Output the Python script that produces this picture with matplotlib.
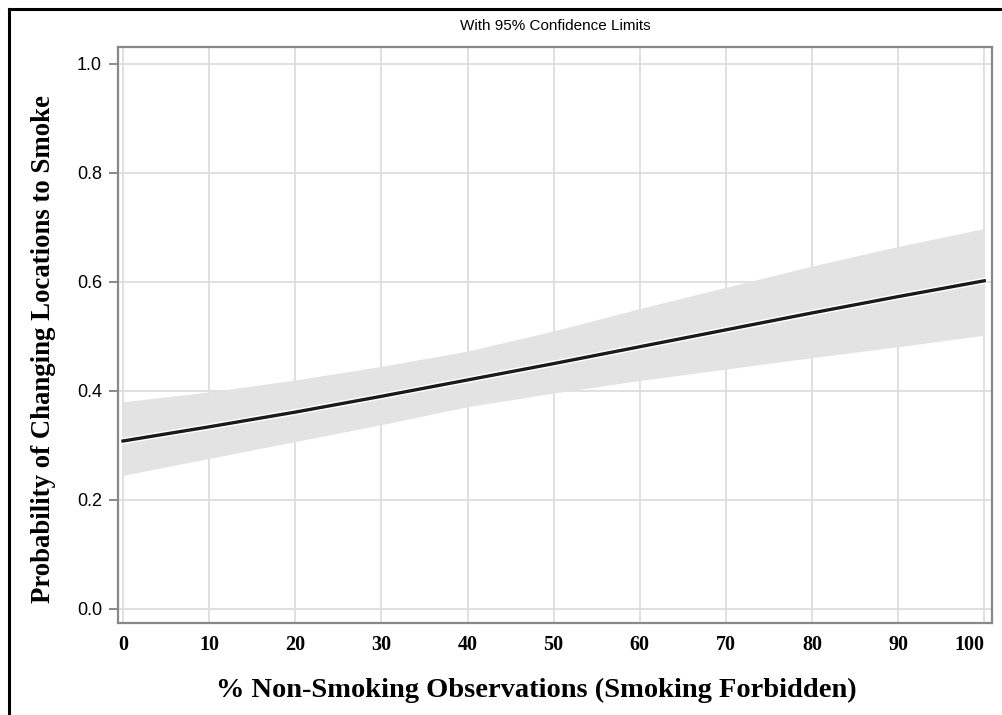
import matplotlib.pyplot as plt
import matplotlib.patheffects as pe
from matplotlib.lines import Line2D

# values
pct_nonsmoking = [0, 10, 20, 30, 40, 50, 60, 70, 80, 90, 100]
prob = [0.308, 0.334, 0.361, 0.390, 0.420, 0.450, 0.481, 0.512, 0.543, 0.573, 0.602]
upper = [0.380, 0.398, 0.420, 0.445, 0.473, 0.510, 0.551, 0.590, 0.629, 0.665, 0.698]
lower = [0.245, 0.276, 0.307, 0.338, 0.371, 0.396, 0.419, 0.440, 0.461, 0.481, 0.502]

xticks = [0, 10, 20, 30, 40, 50, 60, 70, 80, 90, 100]
yticks = [0.0, 0.2, 0.4, 0.6, 0.8, 1.0]

fig = plt.figure(figsize=(10.02, 7.15), dpi=100)
ax = fig.add_axes([0.1178, 0.1287, 0.8722, 0.8055])

ax.fill_between(pct_nonsmoking, lower, upper, color='#e3e3e3', lw=0, zorder=2)
ax.plot(pct_nonsmoking, prob, color='#1a1a1a', lw=2.4, zorder=3,
        path_effects=[pe.withStroke(linewidth=4.5, foreground='white')])

ax.set_xlim(-0.58, 100.9)
ax.set_ylim(-0.026, 1.031)
ax.set_xticks(xticks)
ax.set_yticks(yticks)
ax.set_xticklabels([str(t) for t in xticks], family='Liberation Serif',
                   fontweight='bold', fontsize=14.5)
ax.set_yticklabels(['%.1f' % t for t in yticks], family='Liberation Sans',
                   fontsize=13)
ax.xaxis.get_ticklabels()[-1].set_horizontalalignment('right')
ax.tick_params(axis='x', length=0, pad=9)
ax.tick_params(axis='y', length=6.5, width=1.2, color='#777777', pad=5)

ax.grid(True, color='#dddddd', lw=1.3, zorder=0)
ax.set_axisbelow(True)
for s in ax.spines.values():
    s.set_color('#888888')
    s.set_linewidth(1.6)

ax.set_title('With 95% Confidence Limits', family='Liberation Sans',
             fontsize=11, pad=12)
fig.text(536/1002, 1-690/715, '% Non-Smoking Observations (Smoking Forbidden)',
         family='Liberation Serif', fontweight='bold', fontsize=20.5,
         ha='center', va='center')
fig.text(44/1002, 1-349/715, 'Probability of Changing Locations to Smoke',
         family='Liberation Serif', fontweight='bold', fontsize=19.3,
         rotation=90, ha='center', va='center')

# outer black frame (left and top edges visible)
fig.add_artist(Line2D([9/1002, 9/1002], [0, 1-9/715], transform=fig.transFigure,
                      color='black', lw=2.2))
fig.add_artist(Line2D([9/1002, 1], [1-9/715, 1-9/715], transform=fig.transFigure,
                      color='black', lw=2.2))

plt.savefig('out.png', dpi=100)
